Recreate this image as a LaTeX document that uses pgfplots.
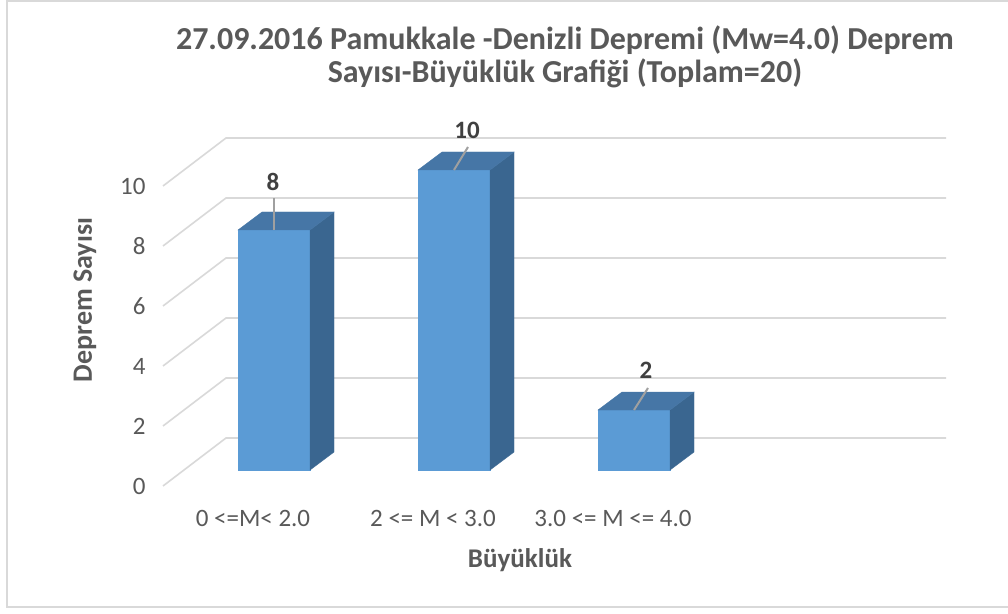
\documentclass[border=0pt]{standalone}
\usepackage{fontspec}
\setmainfont{Carlito}
\usepackage{pgfplots}
\pgfplotsset{compat=1.18}
\usepackage{pgfplotstable}
\definecolor{txt}{HTML}{595959}
\definecolor{lbl}{HTML}{404040}
\definecolor{gridc}{HTML}{D9D9D9}
\definecolor{frontc}{HTML}{5B9BD5}
\definecolor{topc}{HTML}{4676A6}
\definecolor{sidec}{HTML}{3A6690}
\definecolor{leadc}{HTML}{A0A0A0}
\definecolor{framec}{HTML}{D9D9D9}

\pgfplotstableread{
cat n
1 8
2 10
3 2
}\datatable

% leader lines of the data labels: start at bar top, offset (dx,dy) in pt
\pgfplotstableread{
cat n dx dy
1 8 0 32
2 10 14 23
3 2 14 22
}\leadtable

\begin{document}
\begin{tikzpicture}[x=1pt,y=1pt]
\useasboundingbox (0,0) rectangle (1008,613);
\fill[white] (0,0) rectangle (1008,613);
\draw[framec, line width=2pt] (7,6) rectangle (1015,611.5);
\begin{axis}[
  at={(163pt,127pt)}, anchor=south west,
  x=180pt, y=30pt,
  xmin=0.5, xmax=4.85, ymin=0, ymax=11.6,
  clip=false,
  axis line style={draw=none},
  major tick length=0pt,
  xtick={1,2,3},
  xticklabels={{0 <=M< 2.0},{2 <= M < 3.0},{3.0 <= M <= 4.0}},
  ytick={0,2,4,6,8,10},
  /pgf/number format/assume math mode=true,
  tick label style={font=\fontsize{25}{29}\selectfont, text=txt},
  xticklabel style={anchor=base, yshift=-40pt},
  yticklabel style={anchor=east, xshift=-14pt},
  xlabel={Büyüklük},
  xlabel style={at={(axis cs:2.483,-2.467)}, anchor=center, font=\fontsize{27}{31}\selectfont\bfseries, text=txt},
  ylabel={Deprem Sayısı},
  ylabel style={at={(axis cs:0.0667,6.2)}, anchor=center, font=\fontsize{28}{32}\selectfont\bfseries, text=txt},
  title={27.09.2016 Pamukkale -Denizli Depremi (Mw=4.0) Deprem\\Sayısı-Büyüklük Grafiği (Toplam=20)},
  title style={at={(axis cs:2.733,14.1)}, anchor=center, align=center, font=\fontsize{32}{33}\selectfont\bfseries, text=txt},
]
% back-wall and side-wall gridlines
\addplot[gridc, line width=1.6pt] coordinates {(0.5,0) (0.85,1.6) (4.85,1.6)};
\addplot[gridc, line width=1.6pt] coordinates {(0.5,2) (0.85,3.6) (4.85,3.6)};
\addplot[gridc, line width=1.6pt] coordinates {(0.5,4) (0.85,5.6) (4.85,5.6)};
\addplot[gridc, line width=1.6pt] coordinates {(0.5,6) (0.85,7.6) (4.85,7.6)};
\addplot[gridc, line width=1.6pt] coordinates {(0.5,8) (0.85,9.6) (4.85,9.6)};
\addplot[gridc, line width=1.6pt] coordinates {(0.5,10) (0.85,11.6) (4.85,11.6)};
% 3D bars: marker at the top-right corner of each front face
\addplot[scatter, only marks, mark=*, mark size=0pt, mark options={draw=none,fill=none},
  visualization depends on={\thisrow{n} \as \barh},
  scatter/@pre marker code/.code={%
    \pgfmathsetlengthmacro\H{\barh*30pt}%
    \fill[frontc] (-72pt,0pt) rectangle (0pt,-\H);
    \fill[sidec] (0pt,0pt) -- (24pt,18pt) -- (24pt,18pt-\H) -- (0pt,-\H) -- cycle;
    \fill[topc] (-72pt,0pt) -- (0pt,0pt) -- (24pt,18pt) -- (-48pt,18pt) -- cycle;
  },
  scatter/@post marker code/.code={},
] table[x expr=\thisrow{cat}+0.31667, y expr=\thisrow{n}+0.53333] {\datatable};
% leader lines, as marks so that they come after the bars
\addplot[scatter, only marks, mark=*, mark size=0pt, mark options={draw=none,fill=none},
  visualization depends on={\thisrow{dx} \as \ldx},
  visualization depends on={\thisrow{dy} \as \ldy},
  scatter/@pre marker code/.code={%
    \draw[leadc, line width=2pt] (0pt,0pt) -- (\ldx pt,\ldy pt);
  },
  scatter/@post marker code/.code={},
] table[x expr=\thisrow{cat}+0.11667, y expr=\thisrow{n}+0.53333] {\leadtable};
\node[font=\fontsize{25}{29}\selectfont\bfseries, text=lbl] at (axis cs:1.111,10.15) {8};
\node[font=\fontsize{25}{29}\selectfont\bfseries, text=lbl] at (axis cs:2.189,11.85) {10};
\node[font=\fontsize{25}{29}\selectfont\bfseries, text=lbl] at (axis cs:3.183,3.85) {2};
\end{axis}
\end{tikzpicture}
\end{document}
